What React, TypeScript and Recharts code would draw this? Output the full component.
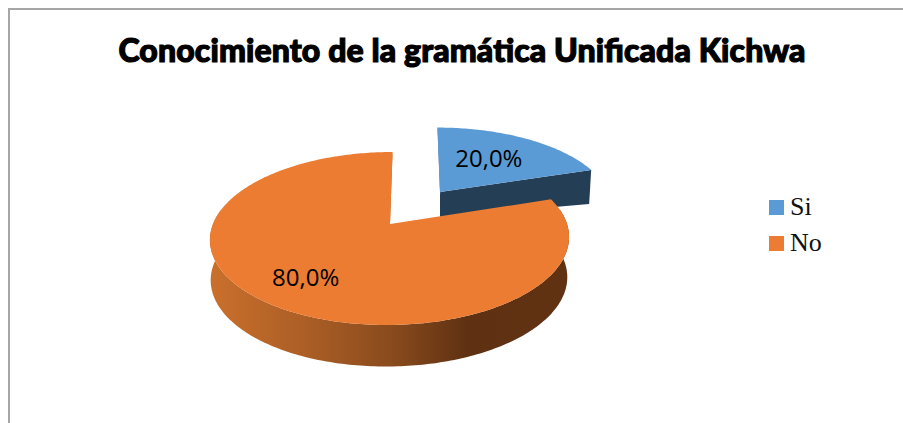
import React from "react";
import { PieChart, Pie, Legend } from "recharts";

const categories = ["Si", "No"];
const values = [20, 80];
const labels = ["20,0%", "80,0%"];
const colors = ["#5b9bd5", "#eb7c31"];
const titleText = "Conocimiento de la gramática Unificada Kichwa";

const chartData = categories.map((name, i) => ({ name, value: values[i], text: labels[i], fill: colors[i] }));

// Perspective projection of the pie disc
const PERSP = 0.1676;
const TILT = 0.475;
const EXPLODE: Record<string, any> = {
  Si: { dx: 50, dy: -32, sx: 0.95, sy: 0.895, shear: -3, labelF: 0.6, ldx: -6, ldy: -1 },
  No: { dx: 0, dy: 0, sx: 1, sy: 1, shear: 3, labelF: 0.75, ldx: 2.5, ldy: -4 },
};

function project(deg: number, f: number, ax: number, ay: number, m: number, k: number, shear: number) {
  const t = (deg * Math.PI) / 180;
  const u = Math.sin(t);
  const v = Math.cos(t);
  const d = 1 + PERSP * v * f;
  return [ax + (m * f * u + shear * f * v) / d, ay - (k * f * v) / d];
}

function arcPts(a: number, b: number, ax: number, ay: number, m: number, k: number, shear: number) {
  const n = Math.max(2, Math.ceil(Math.abs(b - a)));
  const pts: number[][] = [];
  for (let i = 0; i <= n; i++) pts.push(project(a + ((b - a) * i) / n, 1, ax, ay, m, k, shear));
  return pts;
}

const toPath = (pts: number[][]) => "M" + pts.map((p) => p[0].toFixed(2) + "," + p[1].toFixed(2)).join("L") + "Z";

function Slice3D(props: any) {
  const { cx, cy, outerRadius, startAngle, endAngle, fill, name } = props;
  const g = EXPLODE[name];
  const ax = cx + g.dx;
  const ay = cy + g.dy;
  const m = outerRadius * g.sx;
  const k = outerRadius * TILT * g.sy;
  const a = 90 - startAngle;
  const b = 90 - endAngle;
  const top = toPath([[ax, ay], ...arcPts(a, b, ax, ay, m, k, g.shear)]);
  if (name === "Si") {
    const c = project(b, 1, ax, ay, m, k, g.shear);
    const s = project(a, 1, ax, ay, m, k, g.shear);
    const wall = toPath([[ax, ay], c, [c[0] - 2, c[1] + 34], [ax, ay + 25]]);
    const left = toPath([[ax, ay], s, [s[0] + 0.8, s[1] + 3], [ax + 1, ay + 3]]);
    return (
      <g>
        <path d={wall} fill="#243e56" />
        <path d={left} fill="#3f6f9c" />
        <path d={top} fill={fill} />
      </g>
    );
  }
  const from = Math.max(a, 80);
  const to = Math.min(b, 280);
  const frontTop = arcPts(from, to, ax, ay, m, k, g.shear);
  const frontBottom = arcPts(to, from, ax - 0.5, ay + 40, m * 0.993, k * 1.015, g.shear);
  const e = project(b, 1, ax, ay, m, k, g.shear);
  const notch = toPath([[ax, ay], e, [e[0] - 1.5, e[1] + 10], [ax - 1.5, ay + 3]]);
  return (
    <g>
      <defs>
        <linearGradient id="wallNo" gradientUnits="userSpaceOnUse" x1={ax - m} y1={0} x2={ax + m} y2={0}>
          <stop offset="0" stopColor="#c96f2c" />
          <stop offset="0.25" stopColor="#ad5f26" />
          <stop offset="0.5" stopColor="#8a4b1d" />
          <stop offset="0.72" stopColor="#5f3112" />
          <stop offset="1" stopColor="#613212" />
        </linearGradient>
      </defs>
      <path d={toPath([...frontTop, ...frontBottom])} fill="url(#wallNo)" />
      <path d={notch} fill="#a95c25" />
      <path d={top} fill={fill} />
    </g>
  );
}

function sliceLabel(props: any) {
  const { cx, cy, outerRadius, midAngle, name, text } = props;
  const g = EXPLODE[name];
  const ax = cx + g.dx;
  const ay = cy + g.dy;
  const p = project(90 - midAngle, g.labelF, ax, ay, outerRadius * g.sx, outerRadius * TILT * g.sy, 0);
  return (
    <text
      key={name}
      x={p[0] + g.ldx}
      y={p[1] + g.ldy}
      textAnchor="middle"
      dominantBaseline="central"
      fontFamily="'Open Sans', sans-serif"
      fontSize={24}
      fill="#000"
    >
      {text}
    </text>
  );
}

function legendContent(props: any) {
  const items = props.payload || [];
  return (
    <div>
      {items.map((it: any) => (
        <div key={it.value} style={{ display: "flex", alignItems: "center", height: 36 }}>
          <span style={{ width: 15, height: 15, background: it.color, display: "inline-block", marginRight: 6 }} />
          <span style={{ fontFamily: "'Liberation Serif', serif", fontSize: 26, color: "#111", lineHeight: "36px" }}>{it.value}</span>
        </div>
      ))}
    </div>
  );
}

export default function App() {
  return (
    <div style={{ position: "absolute", left: 0, top: 0, width: 903, height: 423, overflow: "hidden", background: "#fff" }}>
      <div
        style={{
          position: "absolute",
          left: 8,
          top: 8,
          width: 1000,
          height: 1000,
          borderLeft: "2px solid #a6a6a6",
          borderTop: "2px solid #a6a6a6",
        }}
      />
      <div style={{ position: "absolute", left: 0, top: 0 }}>
        <PieChart width={903} height={423} margin={{ top: 0, right: 0, bottom: 0, left: 0 }} style={{ background: "transparent" }}>
          <text
            x={462}
            y={62}
            textAnchor="middle"
            fontFamily="Lato, sans-serif"
            fontWeight={900}
            fontSize={32}
            stroke="#000"
            strokeWidth={1.2}
            fill="#000"
            textLength={687}
          >
            {titleText}
          </text>
          <Pie
            data={chartData}
            dataKey="value"
            nameKey="name"
            cx={390}
            cy={224}
            outerRadius={177}
            startAngle={90}
            endAngle={-270}
            stroke="none"
            shape={Slice3D}
            label={sliceLabel}
            labelLine={false}
            isAnimationActive={false}
          />
          <Legend
            content={legendContent}
            layout="vertical"
            itemSorter={null}
            wrapperStyle={{ position: "absolute", left: 769, top: 189, width: 100, bottom: "auto", right: "auto" }}
          />
        </PieChart>
      </div>
    </div>
  );
}
